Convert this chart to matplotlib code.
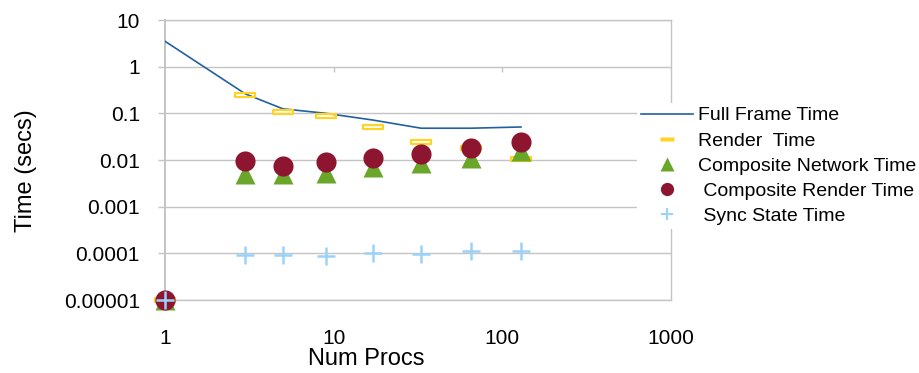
import matplotlib
matplotlib.use("Agg")
import matplotlib.pyplot as plt
from matplotlib.lines import Line2D
from matplotlib.path import Path
from matplotlib.ticker import FixedLocator, FixedFormatter, NullLocator

plt.rcParams['font.family'] = ['Liberation Sans', 'DejaVu Sans']

# ---- data ----
procs = [1, 3, 5, 9, 17, 33, 65, 129]
full_frame = [3.5, 0.26, 0.125, 0.1, 0.072, 0.048, 0.048, 0.051]
render = [1e-5, 0.25, 0.108, 0.088, 0.051, 0.0243, 0.0178, 0.0105]
comp_network = [1e-5, 0.0049, 0.0049, 0.0053, 0.0071, 0.0085, 0.0112, 0.0156]
comp_render = [1e-5, 0.0095, 0.0076, 0.009, 0.0109, 0.0137, 0.0178, 0.024]
sync_state = [1e-5, 9.2e-5, 9.2e-5, 8.9e-5, 1.0e-4, 9.85e-5, 1.14e-4, 1.14e-4]

y_ticks = [1e-5, 1e-4, 1e-3, 1e-2, 1e-1, 1, 10]
y_labels = ['0.00001', '0.0001', '0.001', '0.01', '0.1', '1', '10']
x_ticks = [1, 10, 100, 1000]
x_labels = ['1', '10', '100', '1000']

labels = ['Full Frame Time', 'Render  Time', 'Composite Network Time',
          ' Composite Render Time', ' Sync State Time']

# ---- style ----
c_line = '#22609F'
c_yellow = '#FFD324'
c_green = '#6AA629'
c_red = '#8E1530'
c_plus = '#9AD3F7'
c_grid = '#C4C4C4'

W, H = 919, 373
fig = plt.figure(figsize=(W / 100, H / 100), dpi=100)
ax = fig.add_axes([165 / W, 1 - 300 / H, 506 / W, 280 / H])
ax.set_xscale('log')
ax.set_yscale('log')
ax.set_xlim(1, 1000)
ax.set_ylim(1e-5, 10)

rect_open = Path([(-1, -0.22), (1, -0.22), (1, 0.22), (-1, 0.22), (-1, -0.22)],
                 [Path.MOVETO, Path.LINETO, Path.LINETO, Path.LINETO, Path.CLOSEPOLY])
rect_fill = Path([(-1, -0.3), (1, -0.3), (1, 0.3), (-1, 0.3), (-1, -0.3)],
                 [Path.MOVETO, Path.LINETO, Path.LINETO, Path.LINETO, Path.CLOSEPOLY])

ax.plot(procs, full_frame, color=c_line, lw=1.2, zorder=3)
ax.plot(procs, render, ls='none', marker=rect_open, ms=14, mfc='none', mec=c_yellow,
        mew=1.6, zorder=4, clip_on=False)
ax.plot(procs, comp_network, ls='none', marker='^', ms=14.5, color=c_green,
        mec='none', zorder=5, clip_on=False)
ax.plot(procs, comp_render, ls='none', marker='o', ms=14.5, color=c_red,
        mec='none', zorder=6, clip_on=False)
ax.plot(procs, sync_state, ls='none', marker='+', ms=13, color=c_plus,
        mew=1.8, zorder=7, clip_on=False)

# axes styling
for s in ax.spines.values():
    s.set_color(c_grid)
    s.set_linewidth(1.0)
ax.spines['left'].set_linewidth(1.4)
ax.yaxis.set_major_locator(FixedLocator(y_ticks))
ax.yaxis.set_major_formatter(FixedFormatter(y_labels))
ax.yaxis.set_minor_locator(NullLocator())
ax.xaxis.set_major_locator(FixedLocator(x_ticks))
ax.xaxis.set_major_formatter(FixedFormatter(x_labels))
ax.xaxis.set_minor_locator(NullLocator())
ax.tick_params(axis='y', direction='out', length=5, width=1, color=c_grid,
               labelsize=15, pad=13)
ax.tick_params(axis='x', length=0, labelsize=15, pad=21)
ax.grid(axis='y', color=c_grid, lw=1.0)
ax.set_axisbelow(True)

# small x ticks on the y=1 line
secax = ax.secondary_xaxis(5 / 6)
secax.xaxis.set_major_locator(FixedLocator([10, 100]))
secax.xaxis.set_minor_locator(NullLocator())
secax.tick_params(axis='x', direction='in', length=3.6, width=1, color=c_grid,
                  labeltop=False, labelbottom=False)
for s in secax.spines.values():
    s.set_visible(False)

ax.set_xlabel('Num Procs', fontsize=17)
ax.xaxis.set_label_coords((366 - 165) / 506, (300 - 348) / 280)
ax.set_ylabel('Time (secs)', fontsize=17)
ax.yaxis.set_label_coords(-0.252, (300 - 170.5) / 280)

handles = [
    Line2D([], [], color=c_line, lw=1.2),
    Line2D([], [], ls='none', marker=rect_fill, ms=9.5, color=c_yellow, mec='none'),
    Line2D([], [], ls='none', marker='^', ms=9.5, color=c_green, mec='none'),
    Line2D([], [], ls='none', marker='o', ms=9.5, color=c_red, mec='none'),
    Line2D([], [], ls='none', marker='+', ms=8.5, color=c_plus, mew=1.5),
]
leg = ax.legend(handles, labels, loc='upper left',
                bbox_to_anchor=(637 / W, 1 - 103 / H), bbox_transform=fig.transFigure,
                fontsize=14, frameon=True, facecolor='white', edgecolor='none',
                fancybox=False, framealpha=1, borderpad=0.2, labelspacing=0.39,
                handlelength=2.68, handletextpad=0.26, borderaxespad=0)
leg.set_zorder(10)

fig.savefig('out.png', dpi=100)
